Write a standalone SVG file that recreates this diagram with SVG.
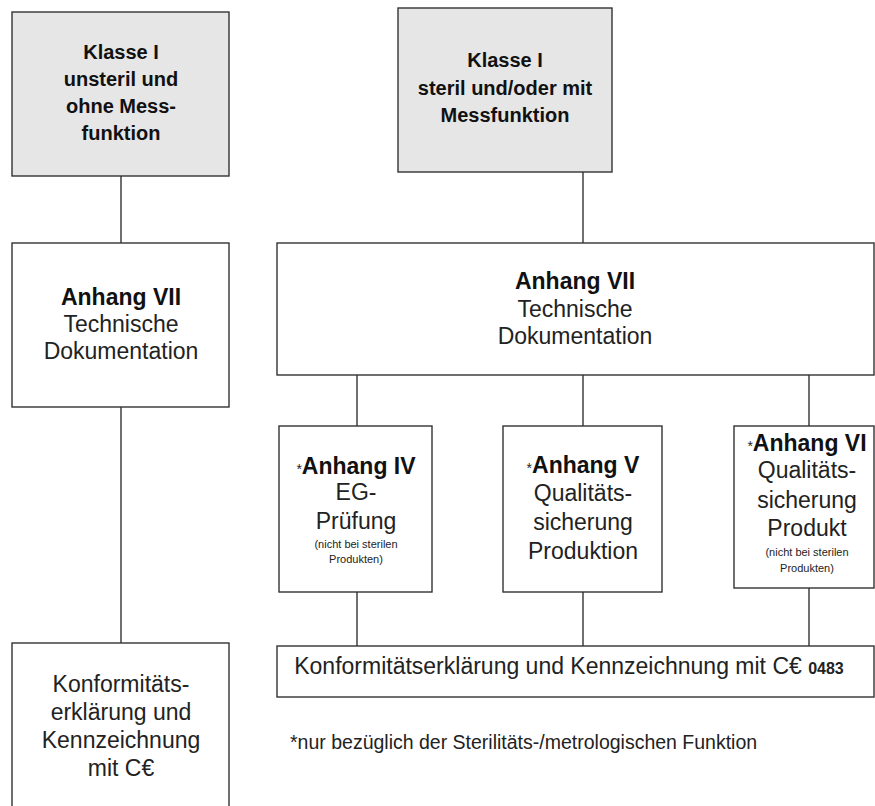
<svg xmlns="http://www.w3.org/2000/svg" width="875" height="806" viewBox="0 0 875 806">
<style>
.box{fill:#ffffff;stroke:#333;stroke-width:1.4}
.gray{fill:#e6e6e6;stroke:#333;stroke-width:1.4}
.ln{stroke:#222;stroke-width:1.3;fill:none}
text{font-family:"Liberation Sans",Arial,sans-serif;fill:#222;text-anchor:middle}
.k{font-weight:bold;font-size:20px;fill:#111}
.b{font-weight:bold;font-size:23px;fill:#111}
.r{font-size:23px}
.st{font-size:14px;font-weight:normal}
.s{font-size:11px}
</style>
<rect width="875" height="806" fill="#ffffff"/>
<g id="connectors">
<line class="ln" x1="121" y1="176" x2="121" y2="243"/>
<line class="ln" x1="121" y1="407" x2="121" y2="643"/>
<line class="ln" x1="583" y1="172" x2="583" y2="243"/>
<line class="ln" x1="357" y1="375" x2="357" y2="426"/>
<line class="ln" x1="583" y1="375" x2="583" y2="426"/>
<line class="ln" x1="809" y1="375" x2="809" y2="426"/>
<line x1="809" y1="374" x2="819" y2="374" stroke="#111" stroke-width="2"/>
<line class="ln" x1="357" y1="592" x2="357" y2="646"/>
<line class="ln" x1="583" y1="592" x2="583" y2="646"/>
<line class="ln" x1="809" y1="588" x2="809" y2="646"/>
</g>
<g id="n1">
<rect class="gray" x="12" y="12" width="217" height="164"/>
<text class="k" x="121" y="59">Klasse I</text>
<text class="k" x="121" y="86">unsteril und</text>
<text class="k" x="121" y="113">ohne Mess-</text>
<text class="k" x="121" y="140">funktion</text>
</g>
<g id="n2">
<rect class="gray" x="398" y="8" width="214" height="164"/>
<text class="k" x="505" y="67">Klasse I</text>
<text class="k" x="505" y="95">steril und/oder mit</text>
<text class="k" x="505" y="122">Messfunktion</text>
</g>
<g id="n3">
<rect class="box" x="12" y="243" width="217" height="164"/>
<text class="b" x="121" y="305">Anhang VII</text>
<text class="r" x="121" y="332">Technische</text>
<text class="r" x="121" y="359">Dokumentation</text>
</g>
<g id="n4">
<rect class="box" x="277" y="243" width="597" height="132"/>
<text class="b" x="575" y="289">Anhang VII</text>
<text class="r" x="575" y="317">Technische</text>
<text class="r" x="575" y="344">Dokumentation</text>
</g>
<g id="n5">
<rect class="box" x="279" y="426" width="153" height="166"/>
<text x="356" y="474"><tspan class="st">*</tspan><tspan class="b">Anhang IV</tspan></text>
<text class="r" x="356" y="500">EG-</text>
<text class="r" x="356" y="529">Prüfung</text>
<text class="s" x="356" y="548">(nicht bei sterilen</text>
<text class="s" x="356" y="563">Produkten)</text>
</g>
<g id="n6">
<rect class="box" x="503" y="426" width="159" height="166"/>
<text x="583" y="473"><tspan class="st">*</tspan><tspan class="b">Anhang V</tspan></text>
<text class="r" x="583" y="501">Qualitäts-</text>
<text class="r" x="583" y="530">sicherung</text>
<text class="r" x="583" y="559">Produktion</text>
</g>
<g id="n7">
<rect class="box" x="734" y="426" width="140" height="162"/>
<text x="807" y="451"><tspan class="st">*</tspan><tspan class="b">Anhang VI</tspan></text>
<text class="r" x="807" y="478">Qualitäts-</text>
<text class="r" x="807" y="508">sicherung</text>
<text class="r" x="807" y="536">Produkt</text>
<text class="s" x="807" y="556">(nicht bei sterilen</text>
<text class="s" x="807" y="572">Produkten)</text>
</g>
<g id="n8">
<rect class="box" x="12" y="643" width="217" height="200"/>
<text class="r" x="121" y="692">Konformitäts-</text>
<text class="r" x="121" y="720">erklärung und</text>
<text class="r" x="121" y="748">Kennzeichnung</text>
<text class="r" x="121" y="776">mit C€</text>
</g>
<g id="n9">
<rect class="box" x="277" y="646" width="597" height="51"/>
<text class="r" x="569" y="674">Konformitätserklärung und Kennzeichnung mit C€ <tspan font-weight="bold" font-size="16">0483</tspan></text>
</g>
<g id="note">
<text x="290" y="749" style="text-anchor:start;font-size:19.5px">*nur bezüglich der Sterilitäts-/metrologischen Funktion</text>
</g>
</svg>
